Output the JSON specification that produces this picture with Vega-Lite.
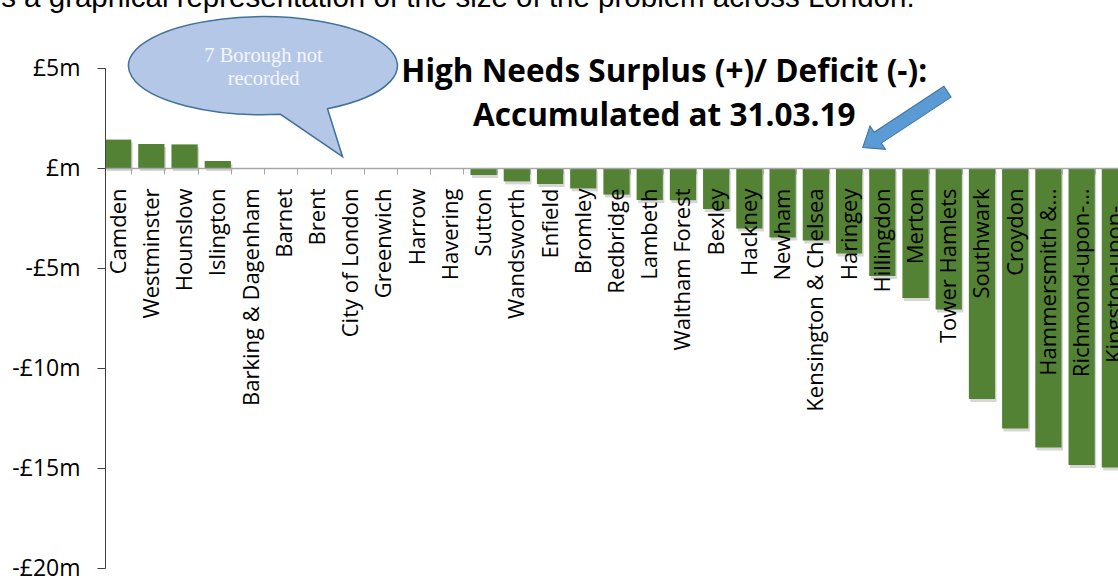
{
  "$schema": "https://vega.github.io/schema/vega-lite/v6.json",
  "autosize": "none",
  "width": 1013,
  "height": 500,
  "padding": {"left": 105, "top": 68, "right": 0, "bottom": 8},
  "background": "white",
  "config": {"view": {"stroke": null}, "font": "Open Sans"},
  "data": {
    "values": [
      {"borough": "Camden", "value": 1.42},
      {"borough": "Westminster", "value": 1.2},
      {"borough": "Hounslow", "value": 1.18},
      {"borough": "Islington", "value": 0.35},
      {"borough": "Barking & Dagenham", "value": null},
      {"borough": "Barnet", "value": null},
      {"borough": "Brent", "value": null},
      {"borough": "City of London", "value": null},
      {"borough": "Greenwich", "value": null},
      {"borough": "Harrow", "value": null},
      {"borough": "Havering", "value": null},
      {"borough": "Sutton", "value": -0.35},
      {"borough": "Wandsworth", "value": -0.67},
      {"borough": "Enfield", "value": -0.8},
      {"borough": "Bromley", "value": -1.02},
      {"borough": "Redbridge", "value": -1.33},
      {"borough": "Lambeth", "value": -1.6},
      {"borough": "Waltham Forest", "value": -1.61},
      {"borough": "Bexley", "value": -2.05},
      {"borough": "Hackney", "value": -3.02},
      {"borough": "Newham", "value": -3.47},
      {"borough": "Kensington & Chelsea", "value": -3.63},
      {"borough": "Haringey", "value": -4.27},
      {"borough": "Hillingdon", "value": -5.4},
      {"borough": "Merton", "value": -6.5},
      {"borough": "Tower Hamlets", "value": -7.07},
      {"borough": "Southwark", "value": -11.55},
      {"borough": "Croydon", "value": -13.02},
      {"borough": "Hammersmith &…", "value": -13.97},
      {"borough": "Richmond-upon-…", "value": -14.85},
      {"borough": "Kingston-upon-…", "value": -14.97}
    ]
  },
  "layer": [
    {
      "mark": {"type": "bar", "color": "#000000", "opacity": 0.16, "yOffset": 3, "xOffset": 1.5},
      "encoding": {
        "x": {
          "field": "borough",
          "type": "nominal",
          "sort": null,
          "scale": {
            "domain": ["Camden", "Westminster", "Hounslow", "Islington", "Barking & Dagenham", "Barnet", "Brent", "City of London", "Greenwich", "Harrow", "Havering", "Sutton", "Wandsworth", "Enfield", "Bromley", "Redbridge", "Lambeth", "Waltham Forest", "Bexley", "Hackney", "Newham", "Kensington & Chelsea", "Haringey", "Hillingdon", "Merton", "Tower Hamlets", "Southwark", "Croydon", "Hammersmith &…", "Richmond-upon-…", "Kingston-upon-…"],
            "range": [0, 1023],
            "paddingInner": 0.21,
            "paddingOuter": 0
          },
          "axis": {
            "title": null,
            "orient": "bottom",
            "offset": -400,
            "labelAngle": -90,
            "labelFont": "Open Sans",
            "labelFontSize": 22,
            "labelColor": "#000000",
            "labelPadding": 14,
            "labelLimit": 500,
            "labelOverlap": false,
            "tickBand": "extent",
            "tickSize": 6,
            "tickColor": "#a6a6a6",
            "domainColor": "#a6a6a6",
            "domainWidth": 1.5,
            "zindex": 1
          }
        },
        "y": {
          "field": "value",
          "type": "quantitative",
          "scale": {"domain": [-20, 5], "nice": false, "zero": false},
          "axis": {
            "title": null,
            "grid": false,
            "values": [5, 0, -5, -10, -15, -20],
            "labelExpr": "datum.value == 0 ? '£m' : (datum.value < 0 ? '-£' + (-datum.value) + 'm' : '£' + datum.value + 'm')",
            "labelFont": "Open Sans",
            "labelFontSize": 23,
            "labelColor": "#000000",
            "labelPadding": 17,
            "tickSize": 8,
            "tickColor": "#404040",
            "domainColor": "#404040",
            "zindex": 1
          }
        }
      }
    },
    {
      "mark": {"type": "bar", "color": "#548235"},
      "encoding": {
        "x": {
          "field": "borough",
          "type": "nominal",
          "sort": null,
          "axis": {
            "title": null,
            "orient": "bottom",
            "offset": -400,
            "labelAngle": -90,
            "labelFont": "Open Sans",
            "labelFontSize": 22,
            "labelColor": "#000000",
            "labelPadding": 14,
            "labelLimit": 500,
            "labelOverlap": false,
            "tickBand": "extent",
            "tickSize": 6,
            "tickColor": "#a6a6a6",
            "domainColor": "#a6a6a6",
            "domainWidth": 1.5,
            "zindex": 1
          }
        },
        "y": {
          "field": "value",
          "type": "quantitative",
          "axis": {
            "title": null,
            "grid": false,
            "values": [5, 0, -5, -10, -15, -20],
            "labelExpr": "datum.value == 0 ? '£m' : (datum.value < 0 ? '-£' + (-datum.value) + 'm' : '£' + datum.value + 'm')",
            "labelFont": "Open Sans",
            "labelFontSize": 23,
            "labelColor": "#000000",
            "labelPadding": 17,
            "tickSize": 8,
            "tickColor": "#404040",
            "domainColor": "#404040",
            "zindex": 1
          }
        }
      }
    },
    {
      "data": {"values": [{}]},
      "mark": {
        "type": "point",
        "shape": "M 76.5 40.7 A 134.5 49 0 1 0 29.5 46.3 L 91.5 88.7 Z",
        "size": 4,
        "filled": true,
        "fill": "#b4c7e7",
        "stroke": "#41719c",
        "strokeWidth": 1.5,
        "opacity": 1
      },
      "encoding": {
        "x": {"datum": "Barking & Dagenham", "type": "nominal"},
        "y": {"datum": 5, "type": "quantitative"}
      }
    },
    {
      "data": {"values": [{}]},
      "mark": {
        "type": "text",
        "text": ["7 Borough not", "recorded"],
        "font": "Liberation Serif",
        "fontSize": 20.5,
        "color": "#f4f6fb",
        "align": "center",
        "baseline": "alphabetic",
        "lineHeight": 23.3,
        "dx": 12.5,
        "dy": -6.3
      },
      "encoding": {
        "x": {"datum": "Barking & Dagenham", "type": "nominal"},
        "y": {"datum": 5, "type": "quantitative"}
      }
    },
    {
      "data": {"values": [{}]},
      "mark": {
        "type": "point",
        "shape": "M -50.8 -6.5 L 32.8 -6.5 L 32.8 -14 L 50.8 0 L 32.8 14 L 32.8 6.5 L -50.8 6.5 Z",
        "size": 4,
        "angle": 146.6,
        "filled": true,
        "fill": "#5b9bd5",
        "stroke": "#41719c",
        "strokeWidth": 1,
        "opacity": 1,
        "xOffset": -10.4
      },
      "encoding": {
        "x": {"datum": "Merton", "type": "nominal"},
        "y": {"datum": 2.42, "type": "quantitative"}
      }
    },
    {
      "data": {"values": [{}]},
      "mark": {
        "type": "text",
        "text": ["High Needs Surplus (+)/ Deficit (-):", "Accumulated at 31.03.19"],
        "font": "Open Sans",
        "fontWeight": "bold",
        "fontSize": 31.5,
        "color": "#000000",
        "align": "center",
        "baseline": "alphabetic",
        "lineHeight": 43.5,
        "dx": 14.5
      },
      "encoding": {
        "x": {"datum": "Lambeth", "type": "nominal"},
        "y": {"datum": 4.3, "type": "quantitative"}
      }
    },
    {
      "data": {"values": [{}]},
      "mark": {
        "type": "text",
        "text": "is a graphical representation of the size of the problem across London.",
        "font": "Liberation Sans",
        "fontSize": 29.5,
        "color": "#000000",
        "align": "left",
        "baseline": "alphabetic",
        "dx": -123.5
      },
      "encoding": {
        "x": {"datum": "Camden", "type": "nominal"},
        "y": {"datum": 8.065, "type": "quantitative"}
      }
    }
  ]
}
